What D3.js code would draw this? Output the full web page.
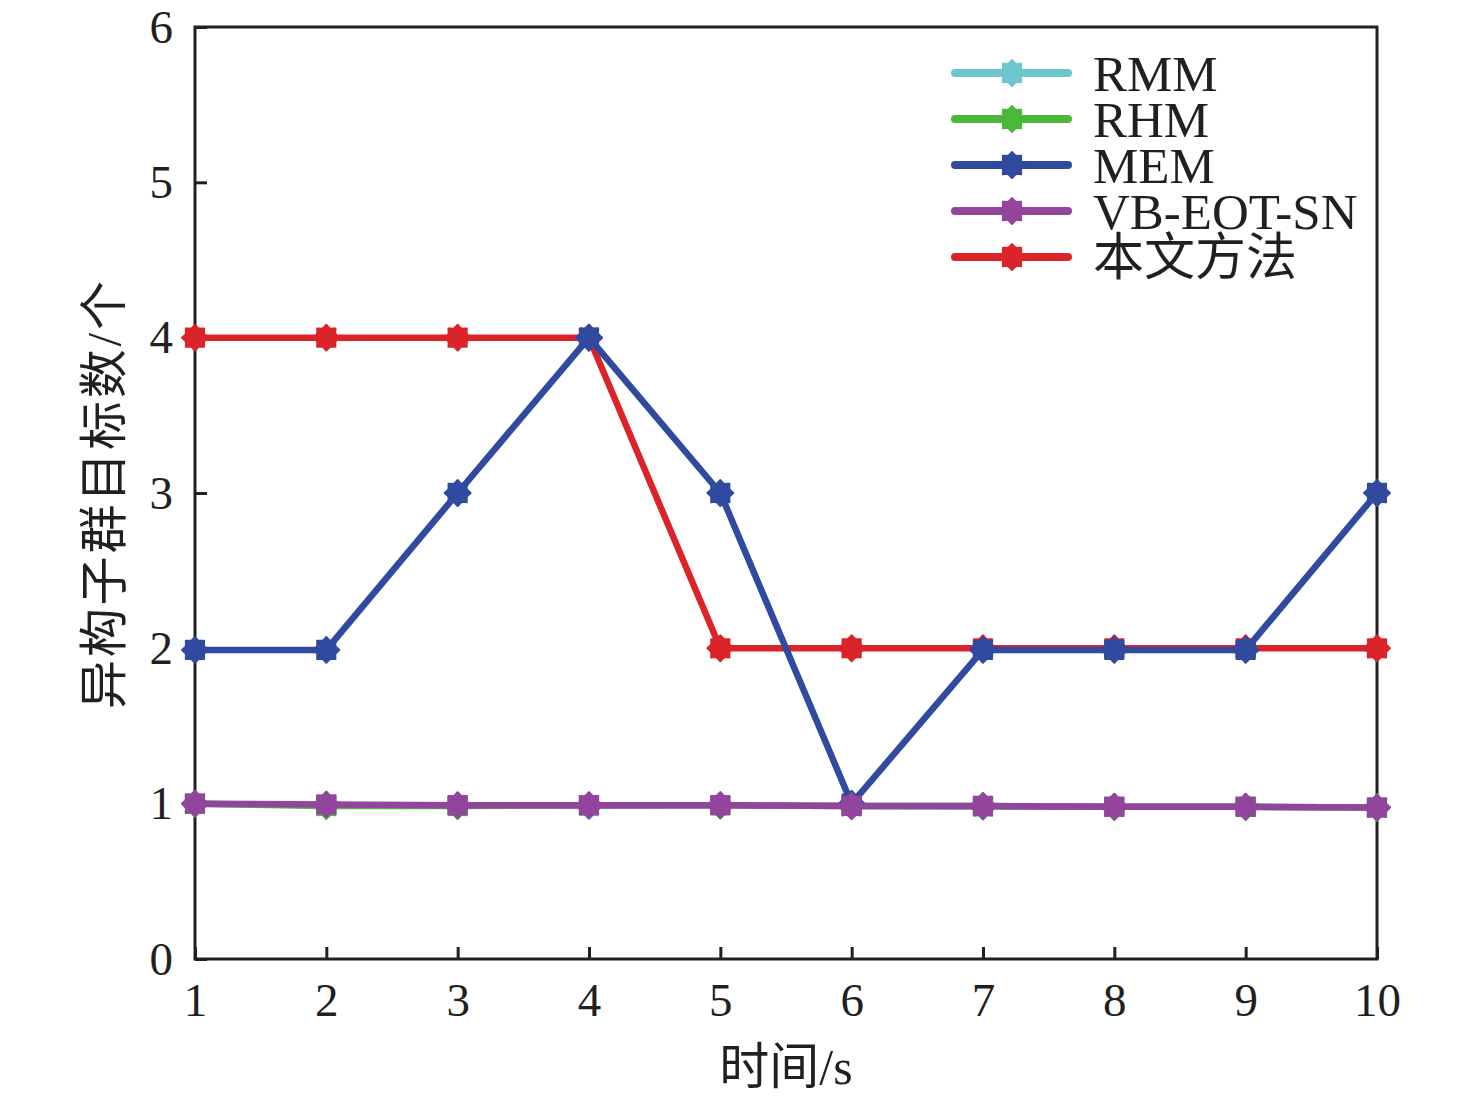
<!DOCTYPE html>
<html>
<head>
<meta charset="utf-8">
<script src="https://cdn.jsdelivr.net/npm/d3@7"></script>
<style>
  body { margin: 0; background: #fff; }
  svg { display: block; }
  text { font-family: "Liberation Serif", "Times New Roman", "Noto Sans CJK SC", serif; fill: #231f20; }
</style>
</head>
<body>
<svg width="1476" height="1101"></svg>
<script>
// 数据
const times = [1, 2, 3, 4, 5, 6, 7, 8, 9, 10];
const rmm = [1.0, 0.99, 0.99, 0.985, 0.99, 0.985, 0.98, 0.98, 0.98, 0.975];
const rhm = [1.0, 0.985, 0.985, 0.99, 0.99, 0.985, 0.985, 0.98, 0.98, 0.975];
const mem = [1.99, 1.99, 3.0, 4.0, 3.0, 1.0, 1.99, 1.99, 1.99, 3.0];
const vbEotSn = [1.0, 0.995, 0.99, 0.99, 0.99, 0.985, 0.985, 0.98, 0.98, 0.975];
const ours = [4.0, 4.0, 4.0, 4.0, 2.0, 2.0, 2.0, 2.0, 2.0, 2.0];
const xTicks = [1, 2, 3, 4, 5, 6, 7, 8, 9, 10];
const yTicks = [0, 1, 2, 3, 4, 5, 6];

// 图例顺序
const legendSeries = [
  { name: "RMM", values: rmm, color: "#6cc6cc" },
  { name: "RHM", values: rhm, color: "#4cb83a" },
  { name: "MEM", values: mem, color: "#2f4a9f" },
  { name: "VB-EOT-SN", values: vbEotSn, color: "#93449d" },
  { name: "本文方法", values: ours, color: "#db2429" }
];
// 绘制顺序（红线在蓝线下面）
const drawOrder = ["RMM", "RHM", "本文方法", "MEM", "VB-EOT-SN"];

const margin = { top: 27, right: 99, bottom: 142, left: 195 };
const width = 1476 - margin.left - margin.right;
const height = 1101 - margin.top - margin.bottom;

const svg = d3.select("svg");
const g = svg.append("g")
  .attr("transform", "translate(" + margin.left + "," + margin.top + ")");

const x = d3.scaleLinear().domain([1, 10]).range([0, width]);
const y = d3.scaleLinear().domain([0, 6]).range([height, 0]);

// 坐标轴（刻度朝内）
const xAxis = g.append("g")
  .attr("transform", "translate(0," + height + ")")
  .call(d3.axisBottom(x).tickValues(xTicks).tickFormat(d3.format("d"))
    .tickSize(-12).tickPadding(24).tickSizeOuter(0));
const yAxis = g.append("g")
  .call(d3.axisLeft(y).tickValues(yTicks).tickFormat(d3.format("d"))
    .tickSize(-12).tickPadding(22).tickSizeOuter(0));

[xAxis, yAxis].forEach(a => {
  a.select(".domain").remove();
  a.selectAll(".tick line").attr("stroke", "#231f20").attr("stroke-width", 3);
  a.selectAll(".tick text").attr("font-size", 47).style("fill", "#231f20");
});
xAxis.selectAll(".tick text").attr("dy", "0.71em");
yAxis.selectAll(".tick text").attr("dy", "0.32em");

// 外框
g.append("rect")
  .attr("x", 0).attr("y", 0)
  .attr("width", width).attr("height", height)
  .attr("fill", "none")
  .attr("stroke", "#231f20")
  .attr("stroke-width", 3);

// 星形标记
const starPoints = [];
for (let i = 0; i < 16; i++) {
  starPoints.push([i * Math.PI / 8, i % 2 === 0 ? 14 : 11]);
}
const starPath = d3.lineRadial().curve(d3.curveCardinalClosed.tension(0.4))(starPoints);

const line = d3.line()
  .x((d, i) => x(times[i]))
  .y(d => y(d));

drawOrder.forEach(name => {
  const s = legendSeries.find(d => d.name === name);
  g.append("path")
    .datum(s.values)
    .attr("d", line)
    .attr("fill", "none")
    .attr("stroke", s.color)
    .attr("stroke-width", 6.5)
    .attr("stroke-linejoin", "round");
  g.selectAll(null)
    .data(s.values)
    .enter().append("path")
    .attr("d", starPath)
    .attr("transform", (d, i) => "translate(" + x(times[i]) + "," + y(d) + ")")
    .attr("fill", s.color);
});

// 图例
const legend = svg.append("g").attr("transform", "translate(955,73)");
legendSeries.forEach((s, i) => {
  const row = legend.append("g").attr("transform", "translate(0," + (i * 46) + ")");
  row.append("line")
    .attr("x1", 0).attr("x2", 113)
    .attr("y1", 0).attr("y2", 0)
    .attr("stroke", s.color)
    .attr("stroke-width", 8)
    .attr("stroke-linecap", "round");
  row.append("path")
    .attr("d", starPath)
    .attr("transform", "translate(57,0)")
    .attr("fill", s.color);
  row.append("text")
    .attr("x", 138)
    .attr("y", 0)
    .attr("dy", "0.35em")
    .attr("font-size", 51)
    .text(s.name);
});

// 轴标题
svg.append("text")
  .attr("x", 786)
  .attr("y", 1084)
  .attr("text-anchor", "middle")
  .attr("font-size", 50)
  .text("时间/s");

svg.append("text")
  .attr("transform", "translate(121,495) rotate(-90)")
  .attr("text-anchor", "middle")
  .attr("font-size", 49)
  .attr("textLength", 428)
  .attr("lengthAdjust", "spacing")
  .text("异构子群目标数/个");
</script>
</body>
</html>
